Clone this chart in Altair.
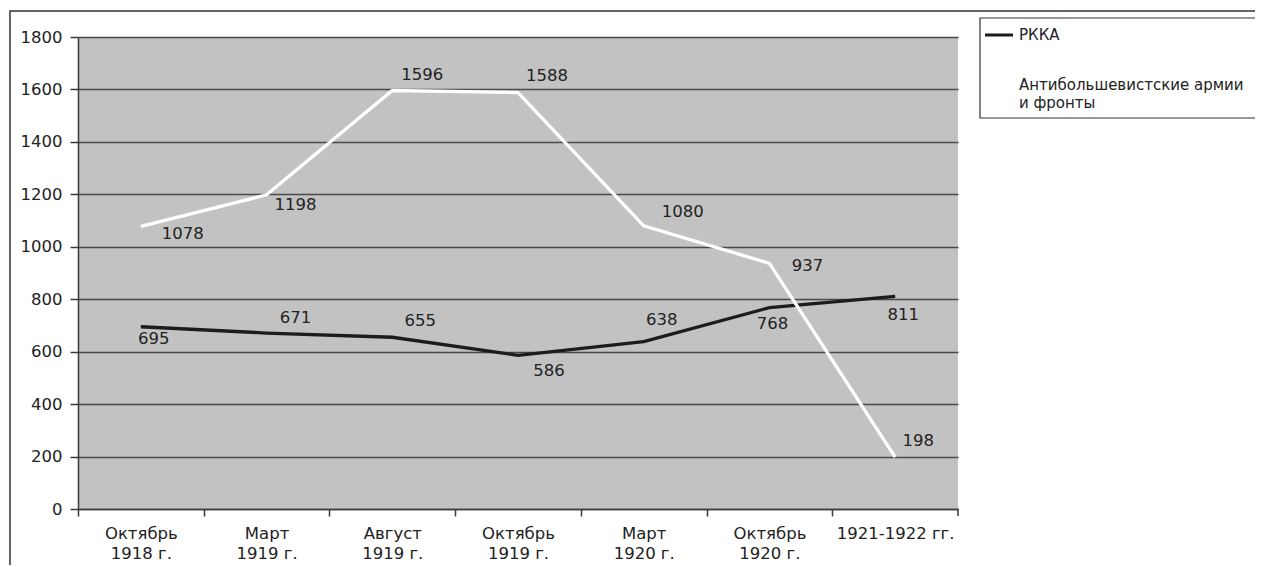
import altair as alt
import pandas as pd

# ---------------- data ----------------
categories = ["Октябрь\n1918 г.", "Март\n1919 г.", "Август\n1919 г.", "Октябрь\n1919 г.",
              "Март\n1920 г.", "Октябрь\n1920 г.", "1921-1922 гг."]
series_names = ["РККА", "Антибольшевистские армии и фронты"]
rkka = [695, 671, 655, 586, 638, 768, 811]
anti = [1078, 1198, 1596, 1588, 1080, 937, 198]
y_ticks = [0, 200, 400, 600, 800, 1000, 1200, 1400, 1600, 1800]

rows = []
for i, c in enumerate(categories):
    rows.append({"cat": c, "idx": i, "series": series_names[0], "value": rkka[i]})
    rows.append({"cat": c, "idx": i, "series": series_names[1], "value": anti[i]})
df = pd.DataFrame(rows)

# ---------------- style ----------------
W, H = 880, 472
FONT = "DejaVu Sans"
TXT = "#222222"
DARK = "#3a3a3a"
FS = 16.5
step = W / len(categories)

# label offsets (dx, dy) per point, imitating the original placement
label_offsets = {
    series_names[0]: [(13, 12), (29, -15), (28, -16), (31, 16), (18, -22), (3, 16), (8, 19)],
    series_names[1]: [(42, 8), (29, 10), (30, -15), (29, -17), (39, -14), (38, 3), (23, -16)],
}

x_enc = alt.X(
    "cat:N", sort=categories,
    scale=alt.Scale(type="point", padding=0.5),
    axis=alt.Axis(
        title=None, labelAngle=0, labelExpr="split(datum.label, '\\n')",
        tickOffset=-step / 2, labelOffset=step / 2, tickSize=7, tickColor=DARK, tickWidth=1.5,
        domainColor=DARK, domainWidth=1.5, labelFont=FONT, labelFontSize=FS, labelColor=TXT,
        labelLineHeight=20, labelPadding=9, labelBaseline="top", grid=False,
    ),
)
y_enc = alt.Y(
    "value:Q",
    scale=alt.Scale(domain=[0, 1800], nice=False, zero=True),
    axis=alt.Axis(
        title=None, values=y_ticks, format="d", grid=True, gridColor="#4a4a4a", gridWidth=1.4,
        tickSize=8, tickColor=DARK, tickWidth=1.5, domainColor=DARK, domainWidth=1.5,
        labelFont=FONT, labelFontSize=FS, labelColor=TXT, labelPadding=8,
    ),
)
color_enc = alt.Color("series:N", scale=alt.Scale(domain=series_names, range=["#1c1c1c", "#ffffff"]),
                      legend=None)

base = alt.Chart(df)
lines = base.mark_line(strokeWidth=3.3).encode(x=x_enc, y=y_enc, color=color_enc, order="idx:Q")

layers = [lines]
for s in series_names:
    for i, (dx, dy) in enumerate(label_offsets[s]):
        layers.append(
            base.transform_filter((alt.datum.series == s) & (alt.datum.idx == i))
            .mark_text(dx=dx, dy=dy, font=FONT, fontSize=FS, color=TXT, align="center", baseline="middle")
            .encode(x=alt.X("cat:N", sort=categories), y="value:Q", text="value:Q")
        )

one = pd.DataFrame({"k": [0]})
# outer border of the chart
layers.append(alt.Chart(one).mark_rect(fill=None, stroke="#333333", strokeWidth=1.5).encode(
    x=alt.value(-68), x2=alt.value(W + 340), y=alt.value(-26), y2=alt.value(H + 80)))
# right end tick of x axis
layers.append(alt.Chart(one).mark_rule(color=DARK, strokeWidth=1.5).encode(
    x=alt.value(W), y=alt.value(H), y2=alt.value(H + 7)))
# legend box
layers.append(alt.Chart(one).mark_rect(fill="white", stroke="#333333", strokeWidth=1.2).encode(
    x=alt.value(902), x2=alt.value(W + 340), y=alt.value(-19), y2=alt.value(81)))
layers.append(alt.Chart(one).mark_rule(color="#1c1c1c", strokeWidth=3).encode(
    x=alt.value(907), x2=alt.value(935), y=alt.value(-2)))
head, tail = series_names[1].split(" и ")
legend_texts = [(series_names[0], -2), (head, 48), ("и " + tail, 66)]
for t, yy in legend_texts:
    layers.append(alt.Chart(pd.DataFrame({"t": [t]})).mark_text(
        font=FONT, fontSize=15, color=TXT, align="left", baseline="middle").encode(
        x=alt.value(941), y=alt.value(yy), text="t:N"))

chart = alt.layer(*layers).properties(
    width=W, height=H,
    autosize=alt.AutoSizeParams(type="none"),
    padding={"left": 70, "top": 29, "right": 297, "bottom": 56},
    background="white",
).configure_view(fill="#c2c2c2", stroke=None)

chart.save("out.html", embed_options={"renderer": "svg", "actions": False})
